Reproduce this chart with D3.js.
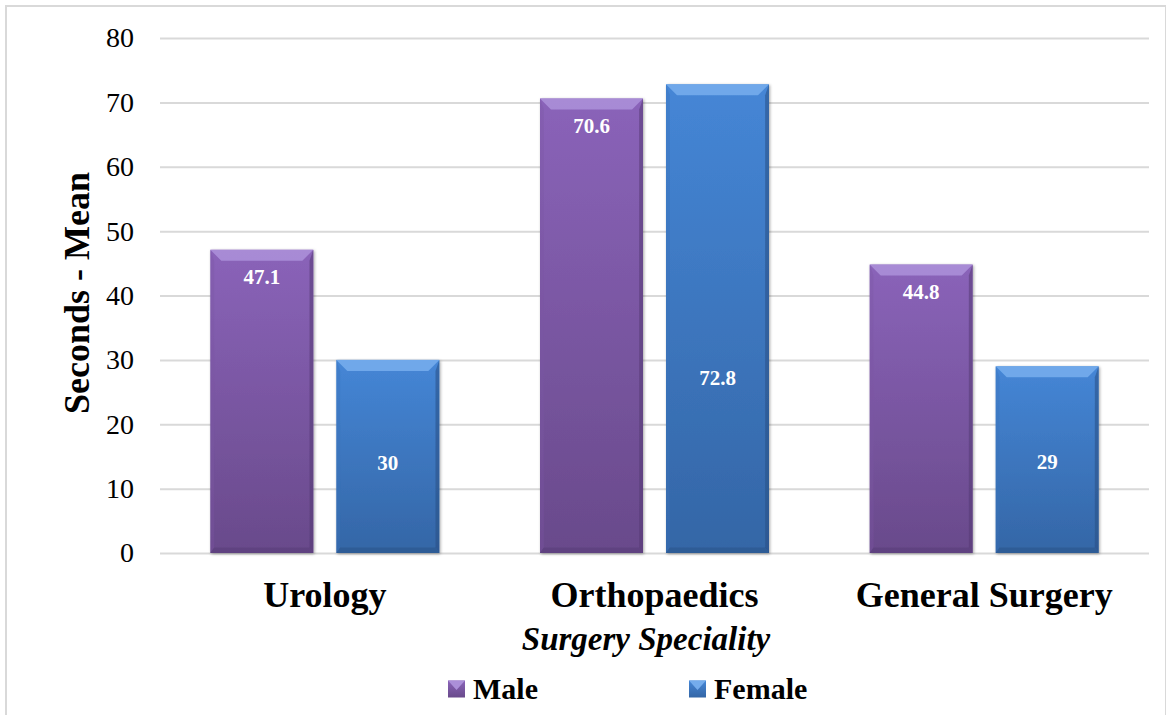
<!DOCTYPE html>
<html>
<head>
<meta charset="utf-8">
<script src="https://cdn.jsdelivr.net/npm/d3@7/dist/d3.min.js"></script>
<style>
  html, body { margin: 0; padding: 0; background: #fff; }
</style>
</head>
<body>
<svg id="chart" width="1166" height="715"></svg>
<script>
// Mean time in seconds by surgery speciality and sex
const categories = ["Urology", "Orthopaedics", "General Surgery"];
const seriesNames = ["Male", "Female"];
const maleValues = [47.1, 70.6, 44.8];
const femaleValues = [30, 72.8, 29];
const yTicks = [0, 10, 20, 30, 40, 50, 60, 70, 80];

const FONT = '"Liberation Serif", "Times New Roman", Tinos, serif';
const svg = d3.select("#chart").style("display", "block").style("font-family", FONT);
const W = 1166, H = 715;
const plot = { left: 160, right: 1149, top: 38, bottom: 553 };

// outer chart border
svg.append("rect")
  .attr("x", 6).attr("y", 6).attr("width", W - 6).attr("height", H + 10)
  .attr("fill", "none").attr("stroke", "#d9d9d9").attr("stroke-width", 2);

const defs = svg.append("defs");
const palette = {
  Male:   { top: "#8a63b9", bottom: "#694a8b", light: "#ab8fd8", dark: "#553a74", side: "#7a56a3" },
  Female: { top: "#4586d6", bottom: "#3466a6", light: "#74acec", dark: "#284f83", side: "#3a74bb" }
};
seriesNames.forEach(s => {
  const g = defs.append("linearGradient").attr("id", "grad-" + s)
    .attr("x1", 0).attr("y1", 0).attr("x2", 0).attr("y2", 1);
  g.append("stop").attr("offset", "0%").attr("stop-color", palette[s].top);
  g.append("stop").attr("offset", "100%").attr("stop-color", palette[s].bottom);
});
const shadow = defs.append("filter").attr("id", "shadow")
  .attr("x", "-10%").attr("y", "-10%").attr("width", "130%").attr("height", "120%");
shadow.append("feDropShadow").attr("dx", 1).attr("dy", 1).attr("stdDeviation", 1.5)
  .attr("flood-color", "#000").attr("flood-opacity", 0.35);

const y = d3.scaleLinear().domain([0, 80]).range([plot.bottom, plot.top]);
const x0 = d3.scaleBand().domain(categories).range([plot.left, plot.right]).padding(0);
const groupW = 229;
const x1 = d3.scaleBand().domain(seriesNames).range([0, groupW]).paddingInner(23 / 126).paddingOuter(0);

// gridlines and left tick labels
const yAxis = d3.axisLeft(y).tickValues(yTicks).tickSize(-(plot.right - plot.left)).tickPadding(26);
const ag = svg.append("g").attr("transform", `translate(${plot.left},0)`).call(yAxis);
ag.attr("font-family", null);
ag.select(".domain").remove();
ag.selectAll(".tick line").attr("stroke", "#d9d9d9").attr("stroke-width", 2);
ag.selectAll(".tick text")
  .style("font-family", FONT)
  .attr("font-size", 28).attr("fill", "#000");

// grouped bars
const rows = categories.map((c, i) => ({ cat: c, vals: [
  { s: "Male", v: maleValues[i] }, { s: "Female", v: femaleValues[i] }
]}));
const femaleLabelAt = [14.0, 27.2, 14.1];
const bev = 11;

const groups = svg.append("g").selectAll("g").data(rows).join("g")
  .attr("transform", d => `translate(${x0(d.cat) + (x0.bandwidth() - groupW) / 2},0)`);

groups.each(function(d, ci) {
  const g = d3.select(this);
  d.vals.forEach(o => {
    const bx = x1(o.s), bw = x1.bandwidth();
    const yt = y(o.v), yb = y(0);
    const p = palette[o.s];
    const bar = g.append("g").attr("filter", "url(#shadow)");
    bar.append("rect").attr("x", bx).attr("y", yt).attr("width", bw).attr("height", yb - yt)
      .attr("fill", `url(#grad-${o.s})`);
    // bevelled edges
    bar.append("polygon").attr("fill", p.light).attr("opacity", 0.9)
      .attr("points", [[bx, yt], [bx + bw, yt], [bx + bw - bev, yt + bev], [bx + bev, yt + bev]].join(" "));
    bar.append("polygon").attr("fill", p.side).attr("opacity", 0.35)
      .attr("points", [[bx, yt], [bx + bev * 0.35, yt + bev], [bx + bev * 0.35, yb - bev * 0.5], [bx, yb]].join(" "));
    bar.append("polygon").attr("fill", p.dark).attr("opacity", 0.55)
      .attr("points", [[bx + bw, yt], [bx + bw - bev * 0.35, yt + bev], [bx + bw - bev * 0.35, yb - bev * 0.5], [bx + bw, yb]].join(" "));
    bar.append("polygon").attr("fill", p.dark).attr("opacity", 0.45)
      .attr("points", [[bx, yb], [bx + bev * 0.35, yb - bev * 0.5], [bx + bw - bev * 0.35, yb - bev * 0.5], [bx + bw, yb]].join(" "));
    // value label
    const ly = o.s === "Male" ? yt + 27 : y(femaleLabelAt[ci]);
    g.append("text").attr("x", bx + bw / 2).attr("y", ly)
      .attr("text-anchor", "middle").attr("dominant-baseline", "central")
      .style("font-family", FONT)
      .attr("font-weight", "bold").attr("font-size", 21).attr("fill", "#fff")
      .text(o.v);
  });
});

// category labels
const xAxis = d3.axisBottom(x0).tickSize(0).tickPadding(28);
const xg = svg.append("g").attr("transform", `translate(0,${plot.bottom})`).call(xAxis);
xg.attr("font-family", null);
xg.select(".domain").remove();
xg.selectAll(".tick text")
  .style("font-family", FONT)
  .attr("font-size", 36).attr("font-weight", "bold").attr("fill", "#000");

// axis titles
svg.append("text").attr("x", 646).attr("y", 650).attr("text-anchor", "middle")
  .style("font-family", FONT)
  .attr("font-size", 33).attr("font-weight", "bold").attr("font-style", "italic")
  .text("Surgery Speciality");
svg.append("text").attr("transform", "translate(89,293) rotate(-90)").attr("text-anchor", "middle")
  .style("font-family", FONT)
  .attr("font-size", 36).attr("font-weight", "bold")
  .text("Seconds - Mean");

// legend
const legendPos = { Male: 448, Female: 689 };
seriesNames.forEach(s => {
  const lx = legendPos[s], ly = 689;
  const p = palette[s], m = 17;
  const lg = svg.append("g");
  lg.append("rect").attr("x", lx).attr("y", ly - m / 2).attr("width", m).attr("height", m)
    .attr("fill", `url(#grad-${s})`);
  lg.append("polygon").attr("fill", p.light)
    .attr("points", [[lx, ly - m / 2], [lx + m, ly - m / 2], [lx + m / 2, ly + 1]].join(" "));
  lg.append("text").attr("x", lx + m + 8).attr("y", ly + 10)
    .style("font-family", FONT)
    .attr("font-size", 30).attr("font-weight", "bold").text(s);
});
</script>
</body>
</html>
